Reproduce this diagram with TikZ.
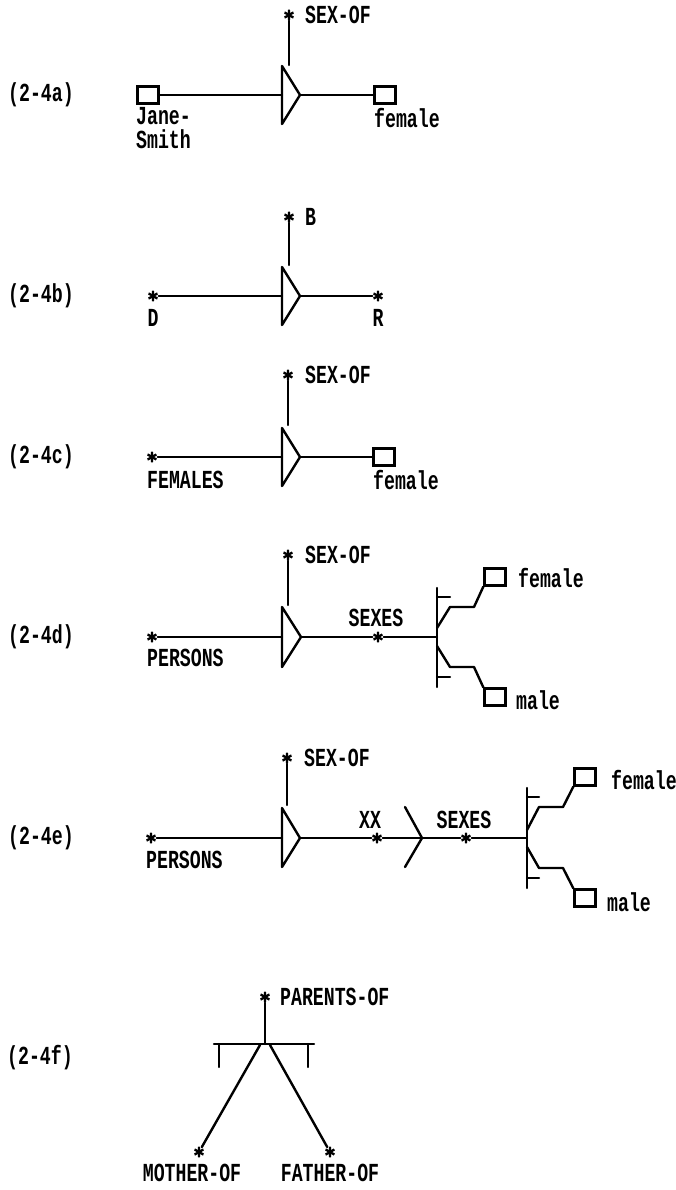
\documentclass[tikz,border=0pt]{standalone}
\usepackage{fontspec}
\newfontfamily\plotfont[FakeStretch=0.7]{Liberation Mono}
\usetikzlibrary{calc}
\tikzset{
    % plotter strokes
    wire/.style={
        line width=2.4pt,
        line cap=round,
        line join=round
    },
    % plotter lettering
    lbl/.style={
        font=\plotfont\bfseries\fontsize{26}{26}\selectfont,
        inner sep=0pt
    },
    lblw/.style={
        lbl,
        anchor=west
    },
    % constant (small square)
    conbox/.style={
        rectangle,
        draw,
        line width=2.4pt,
        minimum width=21pt,
        minimum height=17pt,
        inner sep=0pt
    },
    % variable (asterisk)
    var/.style={
        circle,
        inner sep=0pt,
        minimum size=11pt,
        path picture={
            \draw[line width=2.3pt] (path picture bounding box.center)
                +(90:5.5pt) -- +(270:5.5pt)
                +(30:5.5pt) -- +(210:5.5pt)
                +(150:5.5pt) -- +(330:5.5pt);
        }
    }
}
\begin{document}
\begin{tikzpicture}[x=1pt, y=-1pt]
    \useasboundingbox (0,0) rectangle (676,1190);

    % (2-4a)
    \node[lbl] (taga) at (41,95) {(2-4a)};
    \node[conbox] (jane) at (148,95) {};
    \node[lblw] (janetxt) at (136,116) {Jane-};
    \node[lblw] (smithtxt) at (136,139) {Smith};
    \coordinate (a-in) at (282,95);
    \coordinate (a-out) at (300,95);
    \coordinate (a-top) at (289,65);
    \draw[wire] (282,66) -- (a-out) -- (282,124) -- cycle;
    \node[var] (sexofa) at (289,15) {};
    \node[lblw] (sexofatxt) at (305,15) {SEX-OF};
    \node[conbox] (fema) at (385,95) {};
    \node[lblw] (fematxt) at (374,118) {female};
    \draw[wire] (jane) -- (a-in);
    \draw[wire] (a-out) -- (fema);
    \draw[wire] (sexofa) -- (a-top);

    % (2-4b)
    \node[lbl] (tagb) at (41,296) {(2-4b)};
    \node[var] (d) at (153,296) {};
    \node[lbl] (dtxt) at (153,318) {D};
    \coordinate (b-in) at (282,296);
    \coordinate (b-out) at (300,296);
    \coordinate (b-top) at (289,265);
    \draw[wire] (282,267) -- (b-out) -- (282,325) -- cycle;
    \node[var] (b) at (289,217) {};
    \node[lblw] (btxt) at (305,217) {B};
    \node[var] (r) at (378,296) {};
    \node[lbl] (rtxt) at (378,318) {R};
    \draw[wire] (d) -- (b-in);
    \draw[wire] (b-out) -- (r);
    \draw[wire] (b) -- (b-top);

    % (2-4c)
    \node[lbl] (tagc) at (41,457) {(2-4c)};
    \node[var] (females) at (152,457) {};
    \node[lblw] (femalestxt) at (147,480) {FEMALES};
    \coordinate (c-in) at (282,457);
    \coordinate (c-out) at (300,457);
    \coordinate (c-top) at (288,425);
    \draw[wire] (282,428) -- (c-out) -- (282,486) -- cycle;
    \node[var] (sexofc) at (288,375) {};
    \node[lblw] (sexofctxt) at (305,375) {SEX-OF};
    \node[conbox] (femc) at (384,457) {};
    \node[lblw] (femctxt) at (373,480) {female};
    \draw[wire] (females) -- (c-in);
    \draw[wire] (c-out) -- (femc);
    \draw[wire] (sexofc) -- (c-top);

    % (2-4d)
    \node[lbl] (tagd) at (41,637) {(2-4d)};
    \node[var] (persd) at (152,637) {};
    \node[lblw] (persdtxt) at (147,658) {PERSONS};
    \coordinate (d-in) at (282,637);
    \coordinate (d-out) at (301,637);
    \coordinate (d-top) at (288,605);
    \draw[wire] (282,607) -- (d-out) -- (282,667) -- cycle;
    \node[var] (sexofd) at (288,555) {};
    \node[lblw] (sexofdtxt) at (305,555) {SEX-OF};
    \node[var] (sexesd) at (378,637) {};
    \node[lbl] (sexesdtxt) at (376,618) {SEXES};
    \coordinate (dbar) at (437,637);
    \draw[wire] (437,588) -- (437,687);
    \draw[wire] (437,597) -- (450,597);
    \draw[wire] (437,677) -- (450,677);
    \node[conbox] (femd) at (495,577) {};
    \node[conbox] (maled) at (495,697) {};
    \node[lblw] (femdtxt) at (518,578) {female};
    \node[lblw] (maledtxt) at (516,700) {male};
    \draw[wire] (persd) -- (d-in);
    \draw[wire] (d-out) -- (sexesd);
    \draw[wire] (sexesd) -- (dbar);
    \draw[wire] (sexofd) -- (d-top);
    \draw[wire] (437,628) -- (450,607) -- (474,607) -- (femd.south west);
    \draw[wire] (437,646) -- (450,667) -- (474,667) -- (maled.north west);

    % (2-4e)
    \node[lbl] (tage) at (41,838) {(2-4e)};
    \node[var] (perse) at (151,838) {};
    \node[lblw] (persetxt) at (146,860) {PERSONS};
    \coordinate (e-in) at (282,838);
    \coordinate (e-out) at (300,838);
    \coordinate (e-top) at (287,805);
    \draw[wire] (282,808) -- (e-out) -- (282,867) -- cycle;
    \node[var] (sexofe) at (287,758) {};
    \node[lblw] (sexofetxt) at (304,758) {SEX-OF};
    \node[var] (xx) at (377,838) {};
    \node[lbl] (xxtxt) at (370,820) {XX};
    \coordinate (chev) at (422,838);
    \draw[wire] (405,807) -- (chev) -- (405,867);
    \node[var] (sexese) at (466,838) {};
    \node[lbl] (sexesetxt) at (464,820) {SEXES};
    \coordinate (ebar) at (527,838);
    \draw[wire] (527,788) -- (527,888);
    \draw[wire] (527,797) -- (539,797);
    \draw[wire] (527,878) -- (539,878);
    \node[conbox] (feme) at (585,777) {};
    \node[conbox] (malee) at (585,898) {};
    \node[lblw] (femetxt) at (611,780) {female};
    \node[lblw] (maleetxt) at (607,902) {male};
    \draw[wire] (perse) -- (e-in);
    \draw[wire] (e-out) -- (xx);
    \draw[wire] (xx) -- (chev);
    \draw[wire] (chev) -- (sexese);
    \draw[wire] (sexese) -- (ebar);
    \draw[wire] (sexofe) -- (e-top);
    \draw[wire] (527,830) -- (539,807) -- (563,807) -- (feme.south west);
    \draw[wire] (527,847) -- (539,868) -- (563,868) -- (malee.north west);

    % (2-4f)
    \node[lbl] (tagf) at (40,1058) {(2-4f)};
    \node[var] (parents) at (265,997) {};
    \node[lblw] (parentstxt) at (280,997) {PARENTS-OF};
    \coordinate (fjoin) at (265,1044);
    \draw[wire] (214,1044) -- (314,1044);
    \draw[wire] (219,1044) -- (219,1067);
    \draw[wire] (308,1044) -- (308,1067);
    \node[var] (mother) at (199,1152) {};
    \node[var] (father) at (330,1152) {};
    \node[lbl] (mothertxt) at (192,1173) {MOTHER-OF};
    \node[lbl] (fathertxt) at (330,1173) {FATHER-OF};
    \draw[wire] (parents) -- (fjoin);
    \draw[wire] (260,1045) -- (mother);
    \draw[wire] (270,1045) -- (father);
\end{tikzpicture}
\end{document}
